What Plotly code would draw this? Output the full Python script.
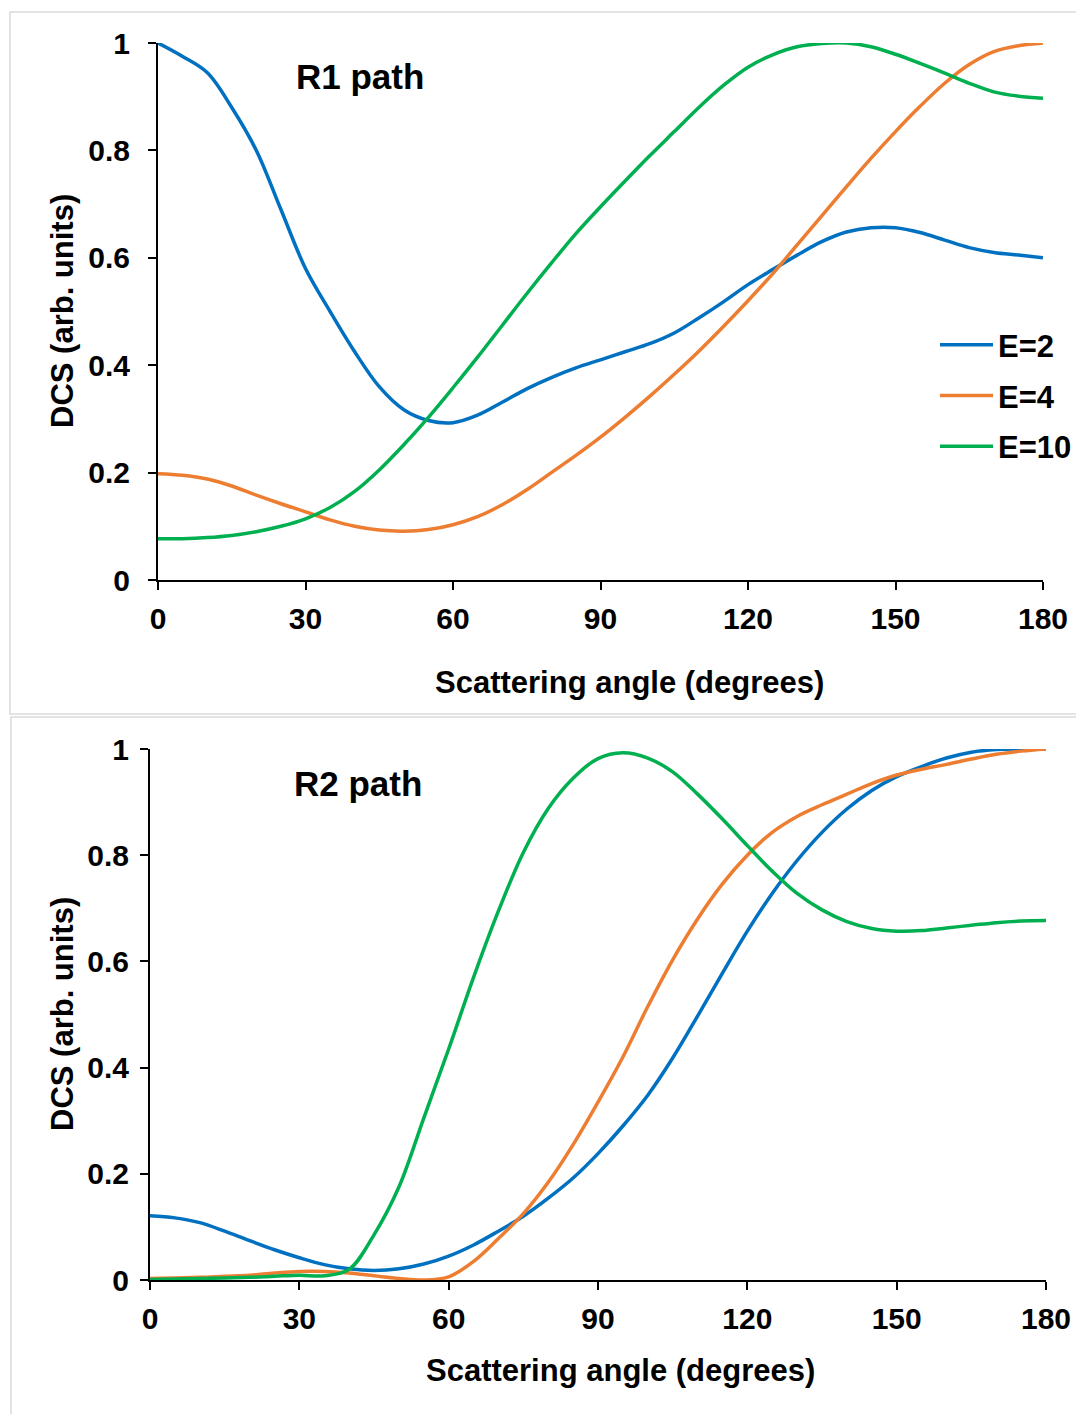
import plotly.graph_objects as go

W, H = 1084, 1414
OFF = 8  # page body margin in the browser

angles = list(range(0, 181, 5))

# R1 path
r1_e2 = [1.000, 0.975, 0.945, 0.880, 0.800, 0.690, 0.580, 0.500, 0.425, 0.360, 0.317, 0.297,
         0.293, 0.307, 0.331, 0.356, 0.377, 0.395, 0.410, 0.425, 0.440, 0.460, 0.488, 0.518,
         0.550, 0.578, 0.605, 0.630, 0.648, 0.656, 0.656, 0.647, 0.633, 0.619, 0.610, 0.605, 0.600]
r1_e4 = [0.198, 0.195, 0.188, 0.175, 0.158, 0.142, 0.127, 0.112, 0.100, 0.093, 0.091, 0.094,
         0.103, 0.118, 0.140, 0.168, 0.200, 0.232, 0.266, 0.303, 0.342, 0.383, 0.426, 0.472,
         0.520, 0.570, 0.624, 0.678, 0.732, 0.785, 0.835, 0.882, 0.925, 0.960, 0.984, 0.995, 1.000]
r1_e10 = [0.077, 0.077, 0.079, 0.083, 0.090, 0.100, 0.114, 0.135, 0.165, 0.205, 0.252, 0.303,
          0.358, 0.415, 0.474, 0.533, 0.590, 0.645, 0.695, 0.743, 0.790, 0.835, 0.880, 0.921,
          0.955, 0.978, 0.993, 0.999, 1.000, 0.993, 0.979, 0.962, 0.944, 0.925, 0.909, 0.901, 0.897]

# R2 path
r2_e2 = [0.121, 0.117, 0.108, 0.092, 0.074, 0.057, 0.042, 0.029, 0.021, 0.018, 0.021, 0.030,
         0.045, 0.066, 0.092, 0.120, 0.154, 0.192, 0.238, 0.290, 0.348, 0.418, 0.497, 0.578,
         0.657, 0.728, 0.790, 0.843, 0.887, 0.922, 0.948, 0.967, 0.983, 0.994, 0.999, 1.000, 1.000]
r2_e4 = [0.003, 0.004, 0.005, 0.007, 0.009, 0.013, 0.016, 0.016, 0.013, 0.008, 0.003, 0.000,
         0.006, 0.035, 0.078, 0.125, 0.184, 0.255, 0.335, 0.420, 0.515, 0.603, 0.680, 0.746,
         0.800, 0.843, 0.873, 0.895, 0.915, 0.935, 0.951, 0.962, 0.971, 0.981, 0.990, 0.996, 1.000]
r2_e10 = [0.001, 0.002, 0.003, 0.004, 0.005, 0.007, 0.009, 0.008, 0.020, 0.085, 0.175, 0.305,
          0.435, 0.570, 0.695, 0.805, 0.888, 0.945, 0.982, 0.993, 0.983, 0.957, 0.915, 0.868,
          0.818, 0.770, 0.728, 0.697, 0.675, 0.662, 0.657, 0.658, 0.663, 0.668, 0.673, 0.676, 0.677]

series_names = ["E=2", "E=4", "E=10"]
colors = ["#0070C0", "#ED7D31", "#00B050"]
x_ticks = [0, 30, 60, 90, 120, 150, 180]
y_ticks = [0, 0.2, 0.4, 0.6, 0.8, 1]
panel_labels = ["R1 path", "R2 path"]
x_title = "Scattering angle (degrees)"
y_title = "DCS (arb. units)"

FONT = "Liberation Sans, Arial, sans-serif"

def px_x(p):
    return (p - OFF) / W

def px_y(p):
    return 1 - (p - OFF) / H

fig = go.Figure()

for name, col, ys in zip(series_names, colors, [r1_e2, r1_e4, r1_e10]):
    fig.add_trace(go.Scatter(x=angles, y=ys, mode="lines", name=name,
                             line=dict(color=col, width=3.5, shape="spline", smoothing=1.0),
                             legendgroup=name, xaxis="x", yaxis="y"))
for name, col, ys in zip(series_names, colors, [r2_e2, r2_e4, r2_e10]):
    fig.add_trace(go.Scatter(x=angles, y=ys, mode="lines", name=name, showlegend=False,
                             line=dict(color=col, width=3.5, shape="spline", smoothing=1.0),
                             legendgroup=name, xaxis="x2", yaxis="y2"))

tickfont = dict(family=FONT, size=30, color="black", weight="bold")

def xaxis(domain, anchor):
    return dict(domain=domain, anchor=anchor, range=[0, 180], tickvals=x_ticks,
                showgrid=False, zeroline=False, showline=True, linecolor="black", linewidth=2,
                ticks="outside", ticklen=8, tickwidth=2, tickcolor="black", automargin=False,
                tickfont=tickfont, ticklabelstandoff=3)

def yaxis(domain, anchor, standoff):
    return dict(domain=domain, anchor=anchor, range=[0, 1], tickvals=y_ticks,
                showgrid=False, zeroline=False, showline=True, linecolor="black", linewidth=2,
                ticks="outside", ticklen=8, tickwidth=2, tickcolor="black", automargin=False,
                tickfont=tickfont, ticklabelstandoff=standoff)

fig.update_layout(
    width=W, height=H, autosize=False,
    margin=dict(l=0, r=0, t=0, b=0, pad=0, autoexpand=False),
    paper_bgcolor="white", plot_bgcolor="white",
    xaxis=xaxis([px_x(158), px_x(1043)], "y"),
    yaxis=yaxis([px_y(580), px_y(43)], "x", 12),
    xaxis2=xaxis([px_x(150), px_x(1046)], "y2"),
    yaxis2=yaxis([px_y(1280), px_y(749)], "x2", 5),
    showlegend=True,
    legend=dict(x=px_x(935), y=px_y(318), xanchor="left", yanchor="top",
                font=dict(family=FONT, size=31, color="black", weight="bold"),
                bgcolor="rgba(0,0,0,0)", tracegroupgap=7.5, itemwidth=53),
)

annotations = []
for lbl, (cx, cy) in zip(panel_labels, [(360, 76), (358, 783)]):
    annotations.append(dict(text=lbl, x=px_x(cx), y=px_y(cy), xref="paper", yref="paper",
                            showarrow=False, xanchor="center", yanchor="middle",
                            font=dict(family=FONT, size=35, color="black", weight="bold")))
for cx, cy in [(629, 682), (620, 1370)]:
    annotations.append(dict(text=x_title, x=px_x(cx), y=px_y(cy), xref="paper", yref="paper",
                            showarrow=False, xanchor="center", yanchor="middle",
                            font=dict(family=FONT, size=31, color="black", weight="bold")))
for cx, cy in [(62, 311), (62, 1014)]:
    annotations.append(dict(text=y_title, x=px_x(cx), y=px_y(cy), xref="paper", yref="paper",
                            showarrow=False, xanchor="center", yanchor="middle", textangle=-90,
                            font=dict(family=FONT, size=31, color="black", weight="bold")))
fig.update_layout(annotations=annotations)

border = "#DADADA"
fig.add_shape(type="rect", xref="paper", yref="paper",
              x0=px_x(10), x1=px_x(1100), y0=px_y(714), y1=px_y(12),
              line=dict(color=border, width=1.5), fillcolor="rgba(0,0,0,0)", layer="below")
fig.add_shape(type="rect", xref="paper", yref="paper",
              x0=px_x(11), x1=px_x(1100), y0=px_y(1430), y1=px_y(717),
              line=dict(color=border, width=1.5), fillcolor="rgba(0,0,0,0)", layer="below")

fig.write_html("out.html")
